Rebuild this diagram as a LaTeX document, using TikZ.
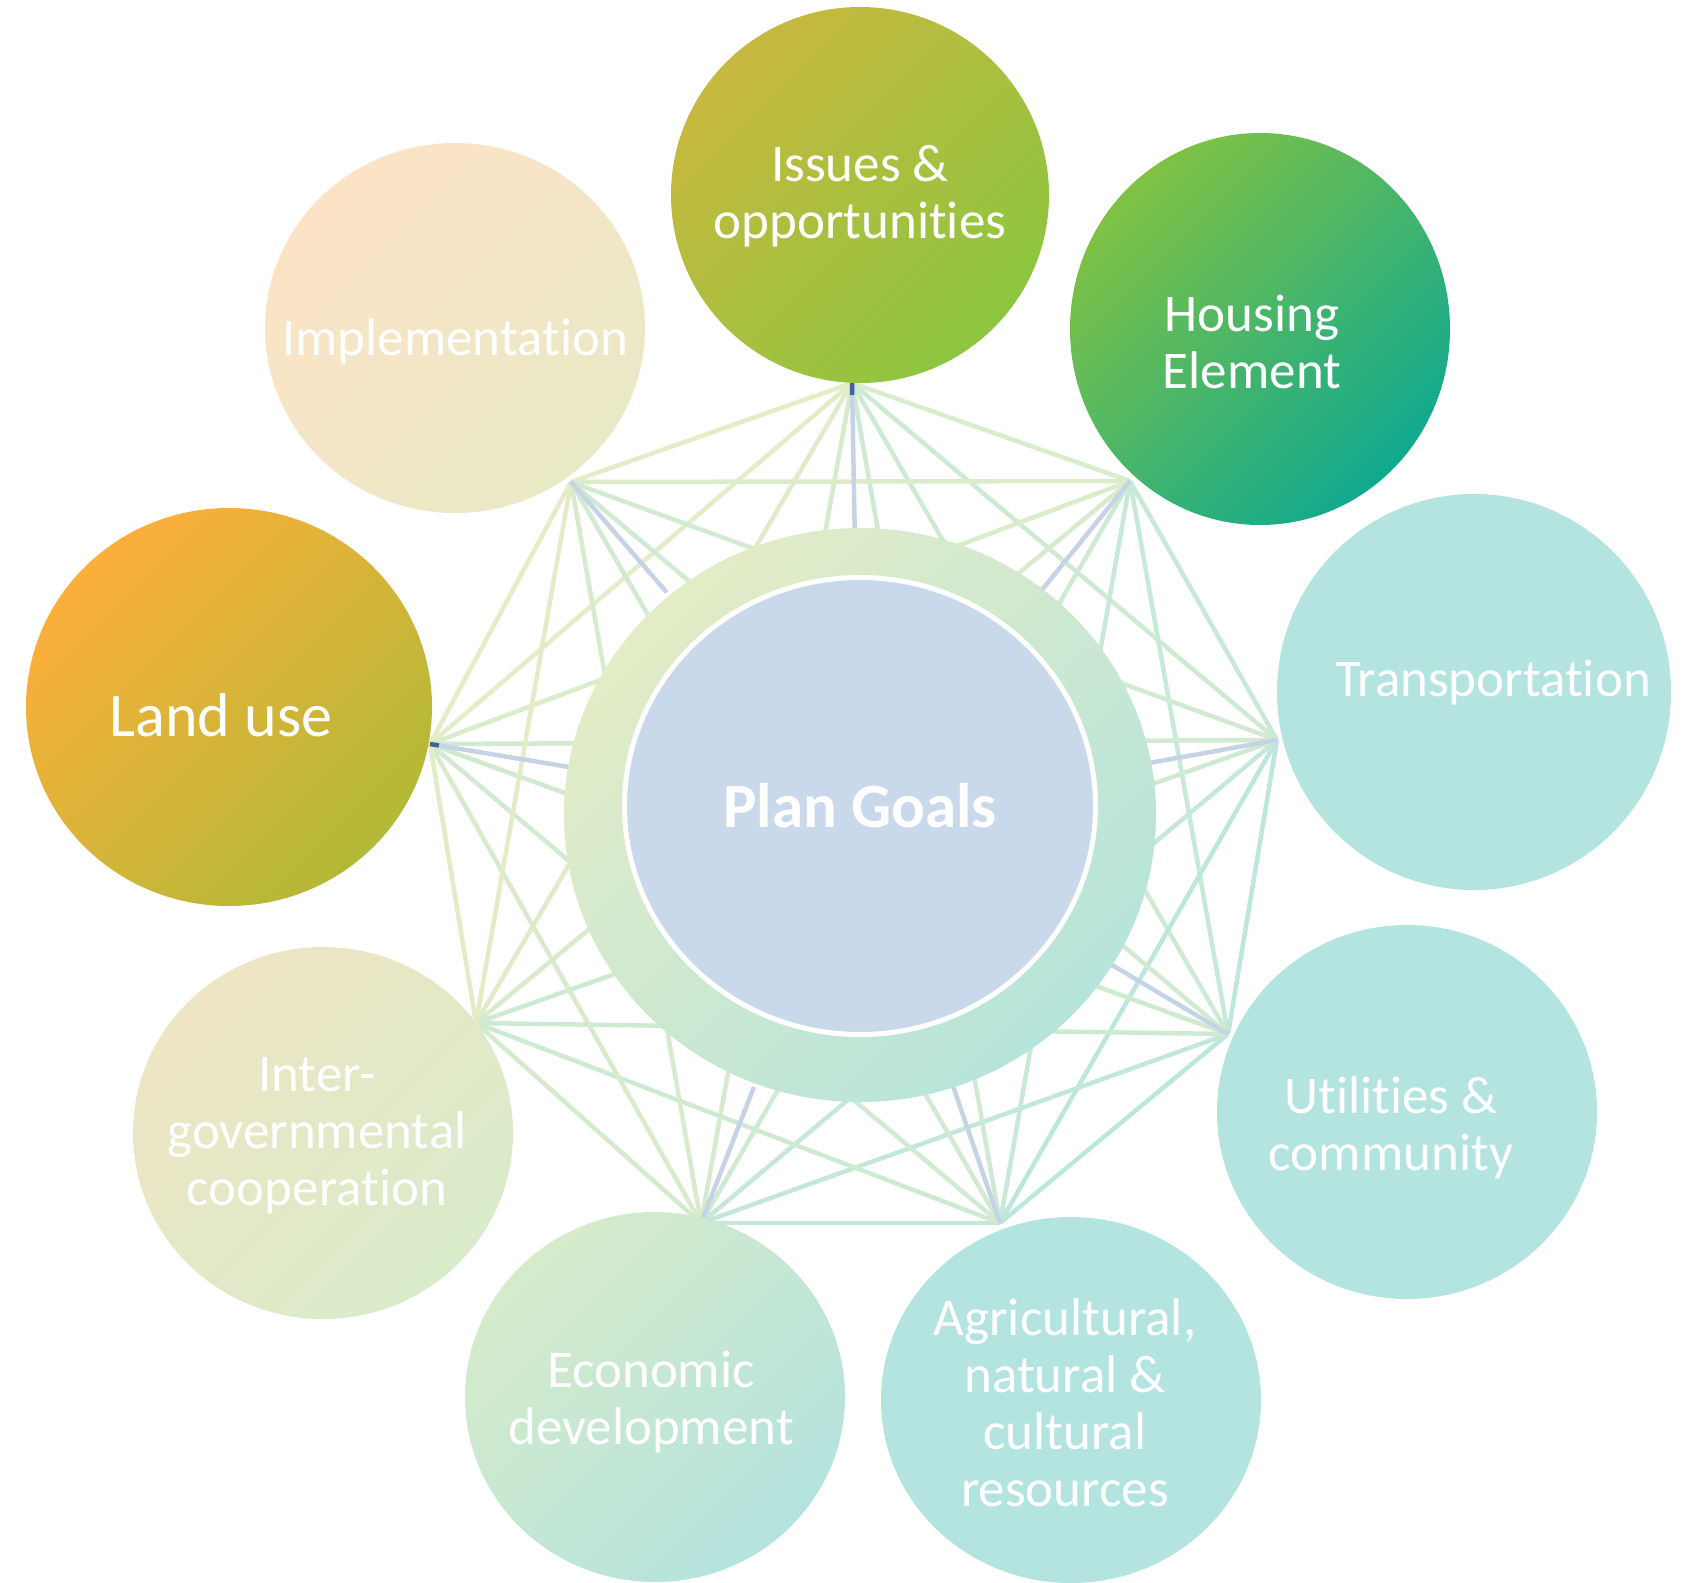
\documentclass[tikz,border=0pt]{standalone}
\usepackage{fontspec}
\setmainfont{Carlito}[RawFeature=-liga, RawFeature=-clig, RawFeature=-calt]
\usetikzlibrary{shapes.geometric,calc}

% line colours at each meeting point
\definecolor{c1}{HTML}{E1EDC8}
\definecolor{c2}{HTML}{D2EBD0}
\definecolor{c3}{HTML}{BEE7DD}
\definecolor{c4}{HTML}{BCE7DD}
\definecolor{c5}{HTML}{BDE7DD}
\definecolor{c6}{HTML}{CBEAD5}
\definecolor{c7}{HTML}{E0ECC8}
\definecolor{c8}{HTML}{E5EDC6}
\definecolor{c9}{HTML}{E6EDC6}
\definecolor{spokecol}{HTML}{C6D3E6}
\definecolor{tipcol}{HTML}{3E64A2}
\definecolor{goalcol}{HTML}{C9D8EA}
\definecolor{paletop}{HTML}{B3E4DF}
% circle shades
\definecolor{ringA}{HTML}{E3ECC6}
\definecolor{ringB}{HTML}{B6E4DB}
\definecolor{issuesA}{HTML}{C8B83F}
\definecolor{issuesB}{HTML}{8CC63F}
\definecolor{housingA}{HTML}{80C243}
\definecolor{housingB}{HTML}{10A98F}
\definecolor{econA}{HTML}{D6EBCA}
\definecolor{econB}{HTML}{B4E3DE}
\definecolor{interA}{HTML}{EEE5C4}
\definecolor{interB}{HTML}{D9EBCA}
\definecolor{landA}{HTML}{FCAF3B}
\definecolor{landB}{HTML}{B2B936}
\definecolor{implA}{HTML}{FDE3C6}
\definecolor{implB}{HTML}{E8E9C6}

\tikzset{
  bubble/.style={ellipse, minimum width=380pt, minimum height=374pt, inner sep=0pt},
  bubbletext/.style={text=white, align=center, inner sep=0pt, font=\fontsize{53}{57}\selectfont},
  chord/.style={line width=4.5pt},
  spokeline/.style={line width=4.5pt, draw=spokecol},
  spoketip/.style={line width=4.5pt, draw=tipcol},
}

\begin{document}
\begin{tikzpicture}[x=1pt,y=-1pt]
\useasboundingbox (0,0) rectangle (1707,1582);

% meeting points on the outer circles
\coordinate (p1) at (852,383);
\coordinate (p2) at (1130,481);
\coordinate (p3) at (1277,740);
\coordinate (p4) at (1228,1034);
\coordinate (p5) at (1000,1223);
\coordinate (p6) at (701,1223);
\coordinate (p7) at (476,1023);
\coordinate (p8) at (430,744);
\coordinate (p9) at (571,482);
\coordinate (mid) at (860,815);

% every point to every other point
\foreach \i in {1,...,9}{
  \foreach \j in {1,...,9}{
    \ifnum\j>\i
      \draw[chord, draw=c\i!50!c\j] (p\i) -- (p\j);
    \fi
  }
}
\foreach \i in {1,2,3,4,5,6,8,9}
  \draw[spokeline] (p\i) -- ($(p\i)!146pt!(mid)$);
\draw[spoketip] (p1) -- ($(p1)!12pt!(mid)$);
\draw[spoketip] (p8) -- ($(p8)!9pt!(mid)$);

% centre
\node[ellipse, minimum width=592pt, minimum height=574pt, inner sep=0pt,
  top color=ringA, bottom color=ringB, shading angle=45] (ring) at (mid) {};
\node[ellipse, minimum width=471pt, minimum height=457pt, inner sep=0pt,
  fill=goalcol, draw=white, line width=5pt, text=white,
  font=\fontsize{63}{68}\selectfont\bfseries] (goals) at (860,806) {Plan Goals};

% outer circles
\node[bubble, minimum width=378pt, minimum height=376pt,
  top color=issuesA, bottom color=issuesB, shading angle=45] (issues) at (860,195) {};
\node[bubble, minimum height=392pt,
  top color=housingA, bottom color=housingB, shading angle=45] (housing) at (1260,329) {};
\node[bubble, minimum width=394pt, minimum height=396pt, fill=paletop] (transport) at (1474,692) {};
\node[bubble, fill=paletop] (utilities) at (1407,1112) {};
\node[bubble, minimum height=366pt, fill=paletop] (agri) at (1071,1400) {};
\node[bubble, minimum height=370pt,
  top color=econA, bottom color=econB, shading angle=45] (economic) at (655,1397) {};
\node[bubble, minimum height=372pt,
  top color=interA, bottom color=interB, shading angle=45] (intergov) at (323,1133) {};
\node[bubble, minimum width=406pt, minimum height=398pt,
  top color=landA, bottom color=landB, shading angle=45] (landuse) at (229,707) {};
\node[bubble, minimum height=370pt,
  top color=implA, bottom color=implB, shading angle=45] (implement) at (455,328) {};

% texts
\node[bubbletext] (issuestext) at (860,196) {Issues \&\\opportunities};
\node[bubbletext] (housingtext) at (1252,342) {Housing\\Element};
\node[bubbletext] (transporttext) at (1493,683) {Transportation};
\node[bubbletext] (utilitiestext) at (1391,1128) {Utilities \&\\community};
\node[bubbletext] (agritext) at (1065,1403) {Agricultural,\\natural \&\\cultural\\resources};
\node[bubbletext] (economictext) at (651,1402) {Economic\\development};
\node[bubbletext] (intergovtext) at (317,1136) {Inter-\\governmental\\cooperation};
\node[bubbletext, font=\fontsize{62}{66}\selectfont] (landusetext) at (221,715) {Land use};
\node[bubbletext] (implementtext) at (455,341) {Implementation};
\end{tikzpicture}
\end{document}
